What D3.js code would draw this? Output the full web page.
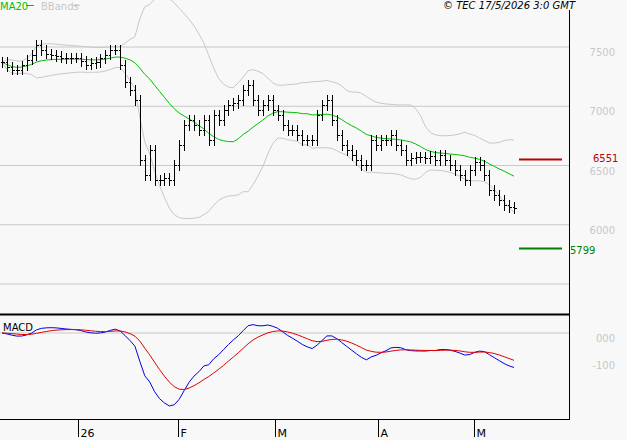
<!DOCTYPE html>
<html><head><meta charset="utf-8">
<script src="https://cdn.jsdelivr.net/npm/d3@7"></script>
<style>body{margin:0;background:#f8f8f8}svg{display:block;font-family:"DejaVu Sans",sans-serif}</style>
</head><body><div id="chart"></div>
<script>
// closing prices, one per trading day
const closes = [7372,7330,7305,7305,7340,7389,7430,7516,7470,7440,7432,7420,7406,7400,7406,7406,7380,7347,7360,7372,
  7400,7432,7474,7474,7347,7200,7135,7051,6542,6415,6627,6373,6373,6390,6373,6500,6669,6839,6881,6839,6796,6881,6712,
  6924,6881,6966,7008,7025,7051,7135,7178,7051,6966,7008,7051,6966,6924,6839,6796,6796,6754,6712,6712,6712,6924,7008,
  7051,6881,6754,6669,6627,6585,6542,6500,6500,6712,6669,6712,6712,6754,6669,6627,6542,6559,6568,6568,6559,6576,6542,
  6585,6542,6500,6458,6415,6373,6458,6525,6500,6415,6288,6246,6204,6161,6144,6136];
const monthTicks = [{i: 15.4, label: "26"}, {i: 35.8, label: "F"}, {i: 55.5, label: "M"}, {i: 76.4, label: "A"}, {i: 95.9, label: "M"}];
const priceTicks = [6000, 6500, 7000, 7500];
const gridValues = [5500, 6000, 6500, 7000, 7500];
const macdTicks = [{v: 0, label: "000"}, {v: -100, label: "-100"}];
const resistance = 6551;
const support = 5799;

const W = 627, H = 440, right = 569;
const svg = d3.select("#chart").append("svg").attr("width", W).attr("height", H);
svg.append("rect").attr("width", W).attr("height", H).attr("fill", "#f8f8f8");

const x = d3.scaleLinear().domain([0, closes.length - 1]).range([2, 514]);
const y = d3.scaleLinear().domain([5500, 7500]).range([284, 47]);
const ym = d3.scaleLinear().domain([-100, 0]).range([360, 333]);

// indicators
const ma = [], up = [], lo = [];
closes.forEach((c, i) => {
    const w = closes.slice(Math.max(0, i - 19), i + 1);
    const m = d3.mean(w), s = Math.sqrt(d3.mean(w, v => (v - m) ** 2));
    ma.push(m); up.push(m + 2 * s); lo.push(m - 2 * s);
});
const ema = (arr, n) => { const k = 2 / (n + 1); let e = arr[0]; return arr.map(v => e = v * k + e * (1 - k)); };
const e12 = ema(closes, 12), e26 = ema(closes, 26);
const macd = closes.map((c, i) => e12[i] - e26[i]);
const signal = ema(macd, 9);

// grid
svg.selectAll(".grid").data(gridValues).join("line")
    .attr("x1", 0).attr("x2", right).attr("y1", d => y(d)).attr("y2", d => y(d))
    .attr("stroke", "#c8c8c8");
svg.append("line").attr("x1", 0).attr("x2", right).attr("y1", ym(0)).attr("y2", ym(0)).attr("stroke", "#c8c8c8");

const line = (arr, sc) => d3.line().x((d, i) => x(i)).y(d => sc(d))(arr);
svg.append("path").attr("d", line(up, y)).attr("fill", "none").attr("stroke", "#c8c8c8");
svg.append("path").attr("d", line(lo, y)).attr("fill", "none").attr("stroke", "#c8c8c8");
svg.append("path").attr("d", line(ma, y)).attr("fill", "none").attr("stroke", "#00c000");

// bars
const g = svg.append("g").attr("stroke", "#000").attr("shape-rendering", "crispEdges");
closes.forEach((c, i) => {
    const o = i ? closes[i - 1] : c;
    const hi = Math.max(o, c) + 45, low = Math.min(o, c) - 45;
    const xi = Math.round(x(i)) + 0.5;
    g.append("line").attr("x1", xi).attr("x2", xi).attr("y1", y(hi)).attr("y2", y(low));
    g.append("line").attr("x1", xi - 2).attr("x2", xi).attr("y1", y(o)).attr("y2", y(o));
    g.append("line").attr("x1", xi).attr("x2", xi + 2).attr("y1", y(c)).attr("y2", y(c));
});

// MACD
svg.append("path").attr("d", line(macd, ym)).attr("fill", "none").attr("stroke", "#0000e0");
svg.append("path").attr("d", line(signal, ym)).attr("fill", "none").attr("stroke", "#e00000");

// frames
svg.append("line").attr("x1", right + 0.5).attr("x2", right + 0.5).attr("y1", 10).attr("y2", 419).attr("stroke", "#000");
svg.append("line").attr("x1", 0).attr("x2", right).attr("y1", 314.5).attr("y2", 314.5).attr("stroke", "#000").attr("stroke-width", 2);
svg.append("line").attr("x1", 0).attr("x2", right + 1).attr("y1", 419.5).attr("y2", 419.5).attr("stroke", "#000");

// x ticks
const xt = svg.selectAll(".xt").data(monthTicks).join("g").attr("transform", d => `translate(${Math.round(x(d.i)) + 0.5},0)`);
xt.append("line").attr("y1", 419).attr("y2", 437).attr("stroke", "#000");
xt.append("text").attr("x", 2).attr("y", 437).attr("font-size", 11).text(d => d.label);

// y labels
svg.selectAll(".yl").data(priceTicks).join("text")
    .attr("x", 615).attr("y", d => y(d) + 9).attr("text-anchor", "end")
    .attr("font-size", 10).attr("fill", "#c8c8c8").text(d => d);
svg.selectAll(".ml").data(macdTicks).join("text")
    .attr("x", 615).attr("y", d => ym(d.v) + 9).attr("text-anchor", "end")
    .attr("font-size", 10).attr("fill", "#c8c8c8").text(d => d.label);

// level markers
svg.append("line").attr("x1", 519).attr("x2", 562).attr("y1", y(resistance)).attr("y2", y(resistance)).attr("stroke", "#c00000").attr("stroke-width", 2);
svg.append("text").attr("x", 593).attr("y", y(resistance) + 3).attr("font-size", 10).attr("fill", "#c00000").text(resistance);
svg.append("line").attr("x1", 519).attr("x2", 562).attr("y1", y(support)).attr("y2", y(support)).attr("stroke", "#008000").attr("stroke-width", 2);
svg.append("text").attr("x", 570).attr("y", y(support) + 5).attr("font-size", 10).attr("fill", "#008000").text(support);

// legend and header
svg.append("text").attr("x", 0).attr("y", 10).attr("font-size", 10).attr("fill", "#00c000").text("MA20");
svg.append("line").attr("x1", 26).attr("x2", 34).attr("y1", 5.5).attr("y2", 5.5).attr("stroke", "#00c000");
svg.append("text").attr("x", 41).attr("y", 10).attr("font-size", 10).attr("fill", "#c8c8c8").text("BBands");
svg.append("line").attr("x1", 72).attr("x2", 80).attr("y1", 5.5).attr("y2", 5.5).attr("stroke", "#c8c8c8");
svg.append("text").attr("x", 575).attr("y", 9).attr("text-anchor", "end").attr("font-size", 10).attr("font-style", "italic").text("© TEC 17/5/2026 3:0 GMT");
svg.append("text").attr("x", 3).attr("y", 331).attr("font-size", 10).text("MACD");
</script></body></html>
